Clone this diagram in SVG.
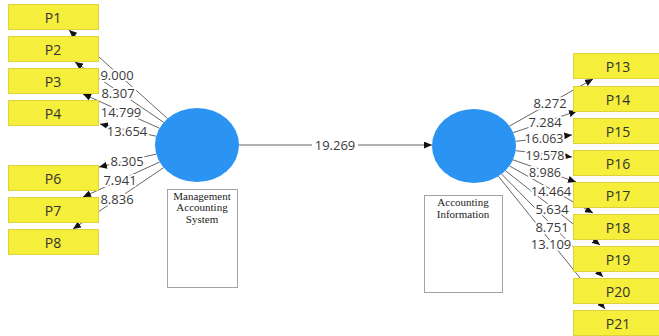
<svg xmlns="http://www.w3.org/2000/svg" width="659" height="336" viewBox="0 0 659 336">
<style>
.box{fill:#f5ee3a;stroke:#ddd33a;stroke-width:1}
.bt{font-family:"Open Sans","Noto Sans",sans-serif;font-size:14px;fill:#333;text-anchor:middle;dominant-baseline:central}
.lv{fill:#2b94f2}
.ln{stroke:#666;stroke-width:1;fill:none;marker-end:url(#ah)}
.lb{font-family:"Open Sans","Noto Sans",sans-serif;font-size:13px;fill:#3a3a3a;text-anchor:middle;dominant-baseline:central;stroke:#fff;stroke-width:4;paint-order:stroke;stroke-linejoin:round}
.sm{font-size:12.5px}
.db{fill:#fff;stroke:#444;stroke-width:1;stroke-dasharray:1,1}
.dt{font-family:"Liberation Serif","Times New Roman",serif;font-size:11px;fill:#222;text-anchor:middle}
</style>
<defs>
<marker id="ah" markerUnits="userSpaceOnUse" markerWidth="8" markerHeight="7" refX="8" refY="3.5" orient="auto"><path d="M0,0 L8,3.5 L0,7 z" fill="#111"/></marker>
</defs>
<rect width="659" height="336" fill="#fff"/>
<g id="connectors">
<line class="ln" x1="239" y1="145" x2="432" y2="145"/>
<line class="ln" x1="167.6" y1="118.6" x2="69" y2="30"/>
<line class="ln" x1="163.8" y1="122.4" x2="75" y2="62"/>
<line class="ln" x1="159.6" y1="128.3" x2="83" y2="94"/>
<line class="ln" x1="156.2" y1="136.2" x2="100" y2="124"/>
<line class="ln" x1="156.3" y1="154.1" x2="99" y2="167"/>
<line class="ln" x1="159.7" y1="162" x2="83" y2="197"/>
<line class="ln" x1="163.7" y1="167.6" x2="73" y2="229"/>
<line class="ln" x1="509.4" y1="126.1" x2="593" y2="79"/>
<line class="ln" x1="513.2" y1="132.7" x2="577" y2="111"/>
<line class="ln" x1="515.7" y1="141.3" x2="572" y2="135"/>
<line class="ln" x1="515.7" y1="150.7" x2="572" y2="157"/>
<line class="ln" x1="513" y1="159.8" x2="576" y2="182"/>
<line class="ln" x1="509.4" y1="165.9" x2="593" y2="213"/>
<line class="ln" x1="505.3" y1="170.6" x2="600" y2="245"/>
<line class="ln" x1="501.5" y1="174" x2="603" y2="277"/>
<line class="ln" x1="498.3" y1="176.2" x2="605" y2="309"/>
<rect x="312" y="137" width="46" height="16" fill="#fff"/>
<text class="lb" x="335" y="145" font-size="13.5">19.269</text>
<text class="lb" x="117" y="75">9.000</text>
<text class="lb" x="118" y="93">8.307</text>
<text class="lb" x="121" y="112">14.799</text>
<text class="lb" x="127" y="131">13.654</text>
<text class="lb" x="127" y="161">8.305</text>
<text class="lb" x="120" y="180">7.941</text>
<text class="lb" x="117" y="199">8.836</text>
<text class="lb" x="550" y="103">8.272</text>
<text class="lb" x="545" y="122">7.284</text>
<text class="lb sm" x="544" y="138">16.063</text>
<text class="lb sm" x="545" y="155">19.578</text>
<text class="lb sm" x="545" y="172">8.986</text>
<text class="lb" x="551" y="191">14.464</text>
<text class="lb" x="552" y="209">5.634</text>
<text class="lb" x="552" y="227">8.751</text>
<text class="lb" x="551" y="244">13.109</text>
</g>
<g id="MAS">
<ellipse class="lv" cx="197" cy="145" rx="42" ry="37"/>
<rect class="db" x="167.5" y="189.5" width="70" height="98"/>
<text class="dt" x="202" y="199.5">Management</text>
<text class="dt" x="202" y="211">Accounting</text>
<text class="dt" x="202" y="222.5">System</text>
</g>
<g id="AI">
<ellipse class="lv" cx="474" cy="146" rx="42" ry="37"/>
<rect class="db" x="424.5" y="195.5" width="78" height="97"/>
<text class="dt" x="463" y="206">Accounting</text>
<text class="dt" x="463" y="217.5">Information</text>
</g>
<g id="P1"><rect class="box" x="8.5" y="4.5" width="90" height="25"/><text class="bt" x="53" y="17">P1</text></g>
<g id="P2"><rect class="box" x="8.5" y="36.5" width="90" height="25"/><text class="bt" x="53" y="49">P2</text></g>
<g id="P3"><rect class="box" x="8.5" y="68.5" width="90" height="25"/><text class="bt" x="53" y="81">P3</text></g>
<g id="P4"><rect class="box" x="8.5" y="100.5" width="90" height="25"/><text class="bt" x="53" y="113">P4</text></g>
<g id="P6"><rect class="box" x="8.5" y="165.5" width="90" height="25"/><text class="bt" x="53" y="178">P6</text></g>
<g id="P7"><rect class="box" x="8.5" y="197.5" width="90" height="25"/><text class="bt" x="53" y="210">P7</text></g>
<g id="P8"><rect class="box" x="8.5" y="229.5" width="90" height="25"/><text class="bt" x="53" y="242">P8</text></g>
<g id="P13"><rect class="box" x="573.5" y="53.5" width="90" height="25"/><text class="bt" x="618" y="66">P13</text></g>
<g id="P14"><rect class="box" x="573.5" y="86.5" width="90" height="25"/><text class="bt" x="618" y="99">P14</text></g>
<g id="P15"><rect class="box" x="573.5" y="118.5" width="90" height="25"/><text class="bt" x="618" y="131">P15</text></g>
<g id="P16"><rect class="box" x="573.5" y="150.5" width="90" height="25"/><text class="bt" x="618" y="163">P16</text></g>
<g id="P17"><rect class="box" x="573.5" y="182.5" width="90" height="25"/><text class="bt" x="618" y="195">P17</text></g>
<g id="P18"><rect class="box" x="573.5" y="214.5" width="90" height="25"/><text class="bt" x="618" y="227">P18</text></g>
<g id="P19"><rect class="box" x="573.5" y="246.5" width="90" height="25"/><text class="bt" x="618" y="259">P19</text></g>
<g id="P20"><rect class="box" x="573.5" y="278.5" width="90" height="25"/><text class="bt" x="618" y="291">P20</text></g>
<g id="P21"><rect class="box" x="573.5" y="310.5" width="90" height="25"/><text class="bt" x="618" y="323">P21</text></g>
</svg>
